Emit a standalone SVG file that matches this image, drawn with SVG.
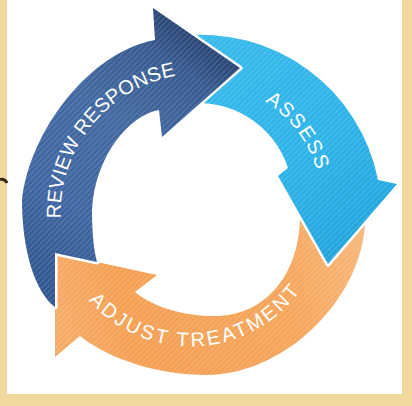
<svg xmlns="http://www.w3.org/2000/svg" xmlns:xlink="http://www.w3.org/1999/xlink" width="412" height="406" viewBox="0 0 412 406">
<defs>
<style>
.halo{stroke:#ffffff;stroke-width:5;stroke-linejoin:round;paint-order:stroke}
.stripe{fill:url(#stripes)}
.lbl{font-family:"Liberation Sans",Arial,sans-serif;font-size:20px;fill:#ffffff}
</style>
<pattern id="stripes" width="4" height="4" patternUnits="userSpaceOnUse" patternTransform="rotate(45)">
<rect width="1.6" height="4" fill="#ffffff" fill-opacity="0.13"/>
</pattern>
<linearGradient id="gDark" gradientUnits="userSpaceOnUse" x1="60" y1="290" x2="230" y2="50">
<stop offset="0" stop-color="#30568f"/>
<stop offset="0.25" stop-color="#3d64a1"/>
<stop offset="0.6" stop-color="#40679f"/>
<stop offset="0.85" stop-color="#35588f"/>
<stop offset="1" stop-color="#233e6b"/>
</linearGradient>
<linearGradient id="gLight" gradientUnits="userSpaceOnUse" x1="190" y1="40" x2="340" y2="260">
<stop offset="0" stop-color="#36b9ea"/>
<stop offset="0.6" stop-color="#2ab2e8"/>
<stop offset="1" stop-color="#1fa3dc"/>
</linearGradient>
<linearGradient id="gOrange" gradientUnits="userSpaceOnUse" x1="360" y1="220" x2="55" y2="300">
<stop offset="0" stop-color="#f8b677"/>
<stop offset="0.3" stop-color="#f5a459"/>
<stop offset="0.8" stop-color="#f49f52"/>
<stop offset="1" stop-color="#f6aa66"/>
</linearGradient>
<path id="pOrange" d="M365,210 C370,290 290,375 206,375 C160,375 110,360 80,336 L55,357 L55,253 L157,275 L135,292 C155,308 185,316 215,316 C265,316 300,275 300,215 Z"/>
<path id="pLight" d="M180,36 A180 180 0 0 1 378,180 L397,184 L328,264 L278,176 L288,168 A94 94 0 0 0 185,104 Z"/>
<path id="pDark" d="M55,253 L55,307 C35,292 22,250 22,200 C30,130 90,52 155,40 L153,8 L240,68 L162,137 L159,110 C130,115 95,155 92,210 C92,235 94,250 97,262 Z"/>
<path id="tReview" d="M63.1,240.8 A140.5 140.5 0 0 1 198.5,73.5"/>
<path id="tAssess" d="M247.7,92.6 A122 122 0 0 1 321.1,190.1"/>
<path id="tAdjust" d="M85.4,296.3 A135.5 135.5 0 0 0 304.3,284.8"/>
</defs>

<g id="background">
<rect x="0" y="0" width="412" height="406" fill="#f0d89e"/>
<rect x="7" y="0" width="395" height="394" fill="#ffffff"/>
<path d="M0,179.5 Q5,178.5 7,183" fill="none" stroke="#3a2818" stroke-width="3"/>
</g>

<g id="node-adjust-treatment">
<use href="#pOrange" xlink:href="#pOrange" class="halo" fill="url(#gOrange)"/>
<use href="#pOrange" xlink:href="#pOrange" class="stripe"/>
<text class="lbl" letter-spacing="2.6"><textPath href="#tAdjust" xlink:href="#tAdjust" startOffset="50%" text-anchor="middle">ADJUST TREATMENT</textPath></text>
</g>

<g id="node-assess">
<use href="#pLight" xlink:href="#pLight" class="halo" fill="url(#gLight)"/>
<use href="#pLight" xlink:href="#pLight" class="stripe"/>
<text class="lbl" font-size="19" letter-spacing="1.5"><textPath href="#tAssess" xlink:href="#tAssess" startOffset="50%" text-anchor="middle">ASSESS</textPath></text>
</g>

<g id="node-review-response">
<use href="#pDark" xlink:href="#pDark" class="halo" fill="url(#gDark)"/>
<use href="#pDark" xlink:href="#pDark" class="stripe"/>
<text class="lbl" letter-spacing="0.3"><textPath href="#tReview" xlink:href="#tReview" startOffset="50%" text-anchor="middle">REVIEW RESPONSE</textPath></text>
</g>
</svg>
